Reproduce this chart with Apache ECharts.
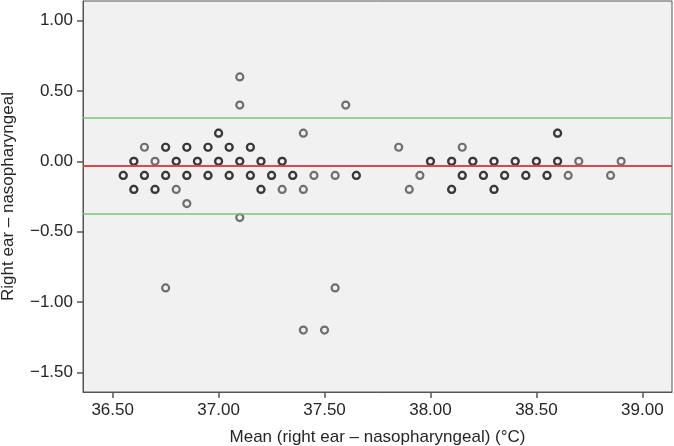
<!DOCTYPE html>
<html>
<head>
<meta charset="utf-8">
<script src="https://cdn.jsdelivr.net/npm/echarts@6/dist/echarts.min.js"></script>
<style>
  html, body { margin: 0; padding: 0; background: #fff; }
  #chart { width: 674px; height: 446px; }
</style>
</head>
<body>
<div id="chart"></div>
<script>
// mean of right ear and nasopharyngeal temperature (°C)
const meanTemp = [
  37.10,
  37.10, 37.60,
  37.00, 37.40, 38.60,
  36.65, 36.75, 36.85, 36.95, 37.05, 37.15, 37.85, 38.15,
  36.60, 36.70, 36.80, 36.90, 37.00, 37.10, 37.20, 37.30, 38.00, 38.10, 38.20, 38.30, 38.40, 38.50, 38.60, 38.70, 38.90,
  36.55, 36.65, 36.75, 36.85, 36.95, 37.05, 37.15, 37.25, 37.35, 37.45, 37.55, 37.65, 37.95, 38.15, 38.25, 38.35, 38.45, 38.55, 38.65, 38.85,
  36.60, 36.70, 36.80, 37.20, 37.30, 37.40, 37.90, 38.10, 38.30,
  36.85,
  37.10,
  36.75, 37.55,
  37.40, 37.50
]
// difference right ear - nasopharyngeal
const diffTemp = [
  0.6,
  0.4, 0.4,
  0.2, 0.2, 0.2,
  0.1, 0.1, 0.1, 0.1, 0.1, 0.1, 0.1, 0.1,
  0, 0, 0, 0, 0, 0, 0, 0, 0, 0, 0, 0, 0, 0, 0, 0, 0,
  -0.1, -0.1, -0.1, -0.1, -0.1, -0.1, -0.1, -0.1, -0.1, -0.1, -0.1, -0.1, -0.1, -0.1, -0.1, -0.1, -0.1, -0.1, -0.1, -0.1,
  -0.2, -0.2, -0.2, -0.2, -0.2, -0.2, -0.2, -0.2, -0.2,
  -0.3,
  -0.4,
  -0.9, -0.9,
  -1.2, -1.2
]
// how many subjects sit on the same spot (estimated from darker rings)
const overlap = [
  1,
  1, 1,
  2, 1, 2,
  1, 2, 2, 2, 2, 2, 1, 1,
  2, 1, 2, 2, 2, 2, 2, 2, 2, 2, 2, 2, 2, 2, 2, 1, 1,
  2, 2, 2, 2, 2, 2, 2, 2, 2, 1, 1, 2, 1, 2, 2, 2, 2, 2, 1, 1,
  2, 2, 1, 2, 1, 1, 1, 2, 2,
  1,
  1,
  1, 1,
  1, 1
]

const meanDiff = -0.03
const limitsOfAgreement = [0.31, -0.37]

const xTicks = [36.5, 37.0, 37.5, 38.0, 38.5, 39.0]
const yTicks = [1.0, 0.5, 0.0, -0.5, -1.0, -1.5]

const fontFamily = '"Liberation Sans", Arial, sans-serif'
const textColor = '#262626'
const lineColor = '#555'

const fmt = (v) => (v < 0 ? '\u2212' : '') + Math.abs(v).toFixed(2)

const buildPoints = () => {
  const pts = []
  for (let i = 0; i < meanTemp.length; i++) {
    for (let k = 0; k < overlap[i]; k++) {
      pts.push([meanTemp[i], diffTemp[i]])
    }
  }
  return pts
}

const getOption = () => {
  return {
    animation: false,
    grid: {
      left: 83,
      right: 2,
      top: 1,
      bottom: 54,
      show: true,
      backgroundColor: '#f1f1f1',
      borderColor: lineColor,
      borderWidth: 1,
      containLabel: false,
      outerBoundsMode: 'none'
    },
    xAxis: {
      type: 'value',
      min: 36.36,
      max: 39.14,
      name: 'Mean (right ear \u2013 nasopharyngeal) (\u00b0C)',
      nameLocation: 'middle',
      nameGap: 37,
      nameTextStyle: { fontSize: 17, color: textColor, fontFamily: fontFamily },
      axisLine: { show: true, onZero: false, lineStyle: { color: lineColor, width: 1 } },
      axisTick: { show: true, length: 6, customValues: xTicks, lineStyle: { color: lineColor, width: 1.5 } },
      axisLabel: {
        customValues: xTicks,
        margin: 10,
        fontSize: 17,
        color: textColor,
        fontFamily: fontFamily,
        formatter: fmt
      },
      splitLine: { show: false }
    },
    yAxis: {
      type: 'value',
      min: -1.64,
      max: 1.14,
      name: 'Right ear \u2013 nasopharyngeal',
      nameLocation: 'middle',
      nameGap: 66,
      nameTextStyle: { fontSize: 17, color: textColor, fontFamily: fontFamily },
      axisLine: { show: true, onZero: false, lineStyle: { color: lineColor, width: 1 } },
      axisTick: { show: true, length: 6, customValues: yTicks, lineStyle: { color: lineColor, width: 1.5 } },
      axisLabel: {
        customValues: yTicks,
        margin: 10,
        fontSize: 17,
        color: textColor,
        fontFamily: fontFamily,
        formatter: fmt
      },
      splitLine: { show: false }
    },
    series: [
      {
        name: 'limits',
        type: 'scatter',
        data: [],
        z: 1,
        markLine: {
          silent: true,
          symbol: 'none',
          label: { show: false },
          data: [
            { yAxis: limitsOfAgreement[0], lineStyle: { color: '#7cc47c', width: 1.5, type: 'solid' } },
            { yAxis: meanDiff, lineStyle: { color: '#e0464a', width: 2.2, type: 'solid' } },
            { yAxis: limitsOfAgreement[1], lineStyle: { color: '#7cc47c', width: 1.5, type: 'solid' } }
          ]
        }
      },
      {
        name: 'subjects',
        type: 'scatter',
        data: buildPoints(),
        symbol: 'circle',
        symbolSize: 7,
        z: 2,
        itemStyle: {
          color: 'rgba(0,0,0,0)',
          borderColor: 'rgba(15,15,15,0.72)',
          borderWidth: 2.2
        }
      }
    ]
  }
}

const chart = echarts.init(document.getElementById('chart'), null, { renderer: 'canvas' })
chart.setOption(getOption())
</script>
</body>
</html>
